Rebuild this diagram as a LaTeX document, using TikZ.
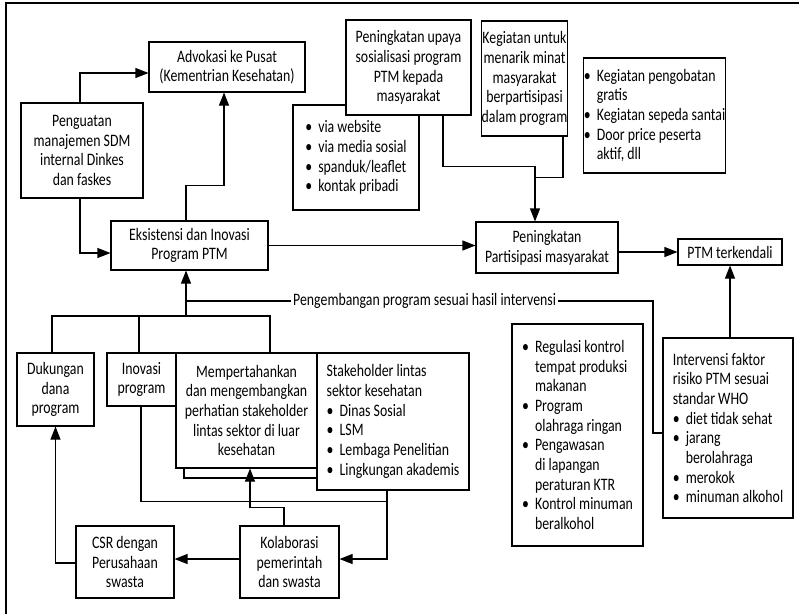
\documentclass[tikz,border=0pt]{standalone}
\usepackage{fontspec}
\setmainfont{Carlito}[FakeStretch=0.79]
\usetikzlibrary{arrows.meta,calc}
\newcommand\fs{\fontsize{17.5}{19.7}\selectfont}
\newcommand\bitem[1]{\makebox[13pt][l]{\textbullet}#1}
\newcommand\bcont[1]{\hspace*{13pt}#1}
\tikzset{
  box/.style={draw, line width=1.1pt, fill=white, inner sep=0pt, align=center, font=\fs},
  lbox/.style={box, align=left},
  arr/.style={line width=1.1pt, -{Triangle[length=13pt,width=10pt]}},
  ln/.style={line width=1.1pt},
  lab/.style={inner sep=2pt, font=\fs}
}
\begin{document}
\begin{tikzpicture}[x=1pt, y=-1pt]
\useasboundingbox (0,0) rectangle (799,614);
% frame
\draw[ln] (6,614) -- (6,3) -- (799,3);

% upper part
\node[box, minimum width=156pt, minimum height=50pt] (adv) at (227,67)
  {Advokasi ke Pusat\\(Kementrian Kesehatan)};
\node[box, minimum width=122pt, minimum height=95pt] (peng) at (82,150.5)
  {Penguatan\\manajemen SDM\\internal Dinkes\\dan faskes};
\node[box, minimum width=157pt, minimum height=49pt] (eks) at (189.5,245.5)
  {Eksistensi dan Inovasi\\Program PTM};
\node[lbox, minimum width=126pt, minimum height=105pt] (sosb) at (356,157.5)
  {\bitem{via website}\\\bitem{via media sosial}\\\bitem{spanduk/leaflet}\\\bitem{kontak pribadi}};
\node[box, minimum width=125pt, minimum height=95pt] (sos) at (408.5,67.5)
  {Peningkatan upaya\\sosialisasi program\\PTM kepada\\masyarakat};
\node[box, minimum width=81pt, minimum height=115pt] (keg) at (524.5,78.5)
  {Kegiatan untuk\\menarik minat\\masyarakat\\berpartisipasi\\dalam program};
\node[lbox, minimum width=107pt, minimum height=115pt] (kegb) at (654.5,115.5)
  {\bitem{Kegiatan pengobatan}\\\bcont{gratis}\\\bitem{Kegiatan sepeda santai}\\\bitem{Door price peserta}\\\bcont{aktif, dll}};
\node[box, minimum width=142pt, minimum height=51pt] (par) at (547,247.5)
  {Peningkatan\\Partisipasi masyarakat};
\node[box, minimum width=104pt, minimum height=26pt] (ptm) at (730,252)
  {PTM terkendali};

% right part
\node[lbox, minimum width=130pt, minimum height=180pt] (intv) at (728,428)
  {Intervensi faktor\\risiko PTM sesuai\\standar WHO\\\bitem{diet tidak sehat}\\\bitem{jarang}\\\bcont{berolahraga}\\\bitem{merokok}\\\bitem{minuman alkohol}};
\node[lbox, minimum width=131pt, minimum height=222pt] (reg) at (577.5,435)
  {\bitem{Regulasi kontrol}\\\bcont{tempat produksi}\\\bcont{makanan}\\\bitem{Program}\\\bcont{olahraga ringan}\\\bitem{Pengawasan}\\\bcont{di lapangan}\\\bcont{peraturan KTR}\\\bitem{Kontrol minuman}\\\bcont{beralkohol}};

% lower left part
\node[box, minimum width=77pt, minimum height=73pt] (duk) at (55.5,389.5)
  {Dukungan\\dana\\program};
\node[box, minimum width=69pt, minimum height=53pt] (ino) at (141.5,379.5)
  {Inovasi\\program};
\draw[ln] (184,468) -- (184,478) -- (317,478);
\node[box, minimum width=141pt, minimum height=115pt] (mem) at (246.5,410.5)
  {Mempertahankan\\dan mengembangkan\\perhatian stakeholder\\lintas sektor di luar\\kesehatan};
\node[lbox, minimum width=152pt, minimum height=137pt] (stk) at (393,421.5)
  {Stakeholder lintas\\sektor kesehatan\\\bitem{Dinas Sosial}\\\bitem{LSM}\\\bitem{Lembaga Penelitian}\\\bitem{Lingkungan akademis}};
\node[box, minimum width=99pt, minimum height=72pt] (kol) at (289.5,562)
  {Kolaborasi\\pemerintah\\dan swasta};
\node[box, minimum width=98pt, minimum height=72pt] (csr) at (125,562)
  {CSR dengan\\Perusahaan\\swasta};

\node[lab, anchor=west] (lab) at (291,301) {Pengembangan program sesuai hasil intervensi};

% connectors, upper part
\draw[arr] ([xshift=-2pt]peng.north) |- ([yshift=-6pt]adv.west);
\draw[arr] ([xshift=-2pt]peng.south) |- ([yshift=-7.5pt]eks.west);
\draw[arr] ([xshift=-3.5pt]eks.north) -- ++(0,-35) -| ([xshift=-3pt]adv.south);
\draw[arr] (eks.east) -- (eks.east -| par.west);
\draw[arr] (ptm.west -| par.east) -- (ptm.west);
\coordinate (j1) at ($(par.north)+(-12,-55)$);
\draw[ln] ([xshift=34.5pt]sos.south) |- (j1);
\draw[ln] ([xshift=38.5pt]keg.south) |- ($(j1)+(0,11)$);
\draw[arr] (j1) -- (j1 |- par.north);
\draw[arr] (ptm.south |- intv.north) -- (ptm.south);

% feedback loop
\coordinate (hub) at (186,316);
\coordinate (fb) at (186,301);
\coordinate (fbr) at (653,301);
\draw[arr] (hub) -- (hub |- eks.south);
\draw[ln] (fb) -- (lab.west);
\draw[ln] (lab.east) -- (fbr) |- ([yshift=-5pt]intv.west);

% branches to the lower boxes
\draw[ln] ([xshift=-3.5pt]duk.north) |- (hub) -| ([xshift=23.5pt]mem.north);
\draw[ln] ([xshift=-2.5pt]ino.north) -- ([xshift=-2.5pt]ino.north |- hub);
\coordinate (sj) at ($(stk.south)+(-6,11)$);
\draw[ln] ([xshift=-0.5pt]ino.south) |- (sj);
\draw[arr] ([xshift=-6pt]stk.south) |- ([yshift=3pt]kol.east);
\draw[arr] ([xshift=-5.5pt]kol.north) -- ++(0,-18) -| ([xshift=3.5pt]mem.south);
\draw[arr] ([yshift=3pt]kol.west) -- ([yshift=3pt]csr.east);
\draw[arr] ([yshift=-1pt]csr.west) -| (duk.south);
\end{tikzpicture}
\end{document}
